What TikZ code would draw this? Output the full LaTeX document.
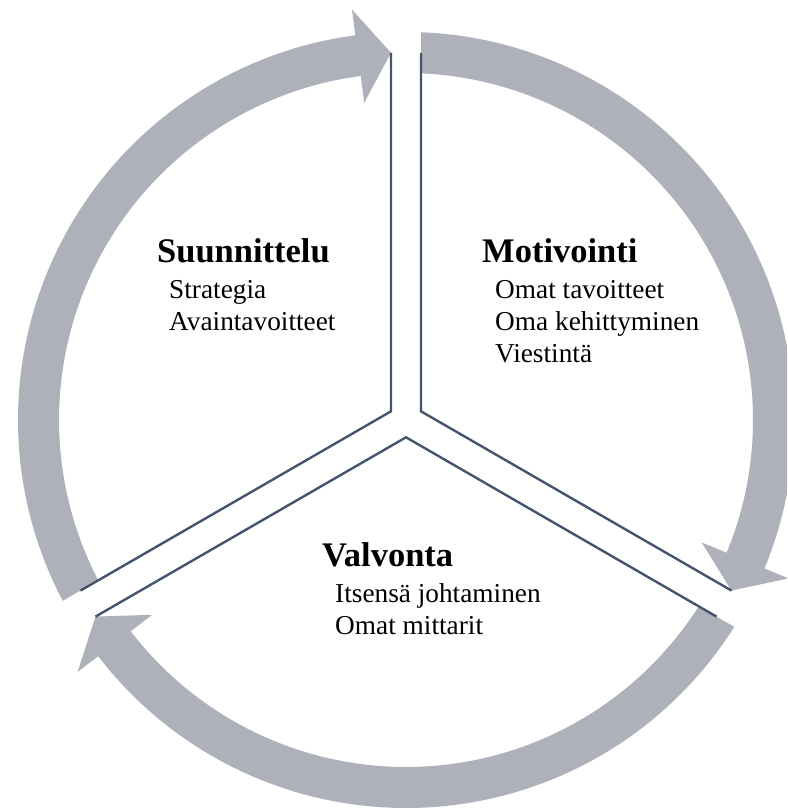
\documentclass[tikz,border=0pt]{standalone}
\usepackage{fontspec}
\setmainfont{Liberation Serif}
\definecolor{ringgray}{RGB}{174,177,185}
\definecolor{slate}{RGB}{68,84,106}

\begin{document}
\begin{tikzpicture}[x=1pt, y=1pt,
    ringarrow/.style={fill=ringgray},
    divider/.style={draw=slate, line width=2.4pt},
    phase/.style={font=\fontsize{34.5}{40}\selectfont\bfseries, anchor=base west, inner sep=0pt},
    item/.style={font=\fontsize{27.3}{32}\selectfont, anchor=base west, inner sep=0pt}]

    % Center of the circle
    \def\xo{406}
    \def\yo{390}
    \def\rin{347}     % ring, inner
    \def\rout{388}    % ring, outer
    \def\rmid{367.5}  % ring, middle (arrow tips)
    \def\hin{320}     % arrow head, inner corner
    \def\hout{414}    % arrow head, outer corner
    \coordinate (oo) at (\xo, \yo);

    \useasboundingbox (0,0) rectangle (787,810);
    \clip (0,0) rectangle (787,810);

    \begin{scope}[shift={(oo)}]
    % Arrows, clockwise from divider \a to divider \b
    \foreach \a/\b in {210/90, 90/-30, 330/210}{
        \fill[ringarrow] ({\a-2.22}:\rout) arc[start angle={\a-2.22}, end angle={\b+7.5}, radius=\rout]
            -- ({\b+7.5}:\hout) -- ({\b+2.34}:\rmid) -- ({\b+7.5}:\hin)
            -- ({\b+7.5}:\rin) arc[start angle={\b+7.5}, end angle={\a-2.48}, radius=\rin] -- cycle;
    }
    % Sectors, straight edges only
    \foreach \a in {90, 210, 330}{
        \draw[divider] ({\a+2.34}:\rmid) -- ({\a+60}:17.32) -- ({\a+120-2.34}:\rmid);
    }
    \end{scope}

    % Labels
    \node[phase] (suun) at (157,547) {Suunnittelu};
    \foreach \t [count=\i] in {Strategia, Avaintavoitteet}
        \node[item] (suun-\i) at (169, {543-32*\i}) {\t};
    \node[phase] (moti) at (482,547) {Motivointi};
    \foreach \t [count=\i] in {Omat tavoitteet, Oma kehittyminen, Viestintä}
        \node[item] (moti-\i) at (495, {543-32*\i}) {\t};
    \node[phase] (valv) at (322,243) {Valvonta};
    \foreach \t [count=\i] in {Itsensä johtaminen, Omat mittarit}
        \node[item] (valv-\i) at (335, {239-32*\i}) {\t};

\end{tikzpicture}
\end{document}
